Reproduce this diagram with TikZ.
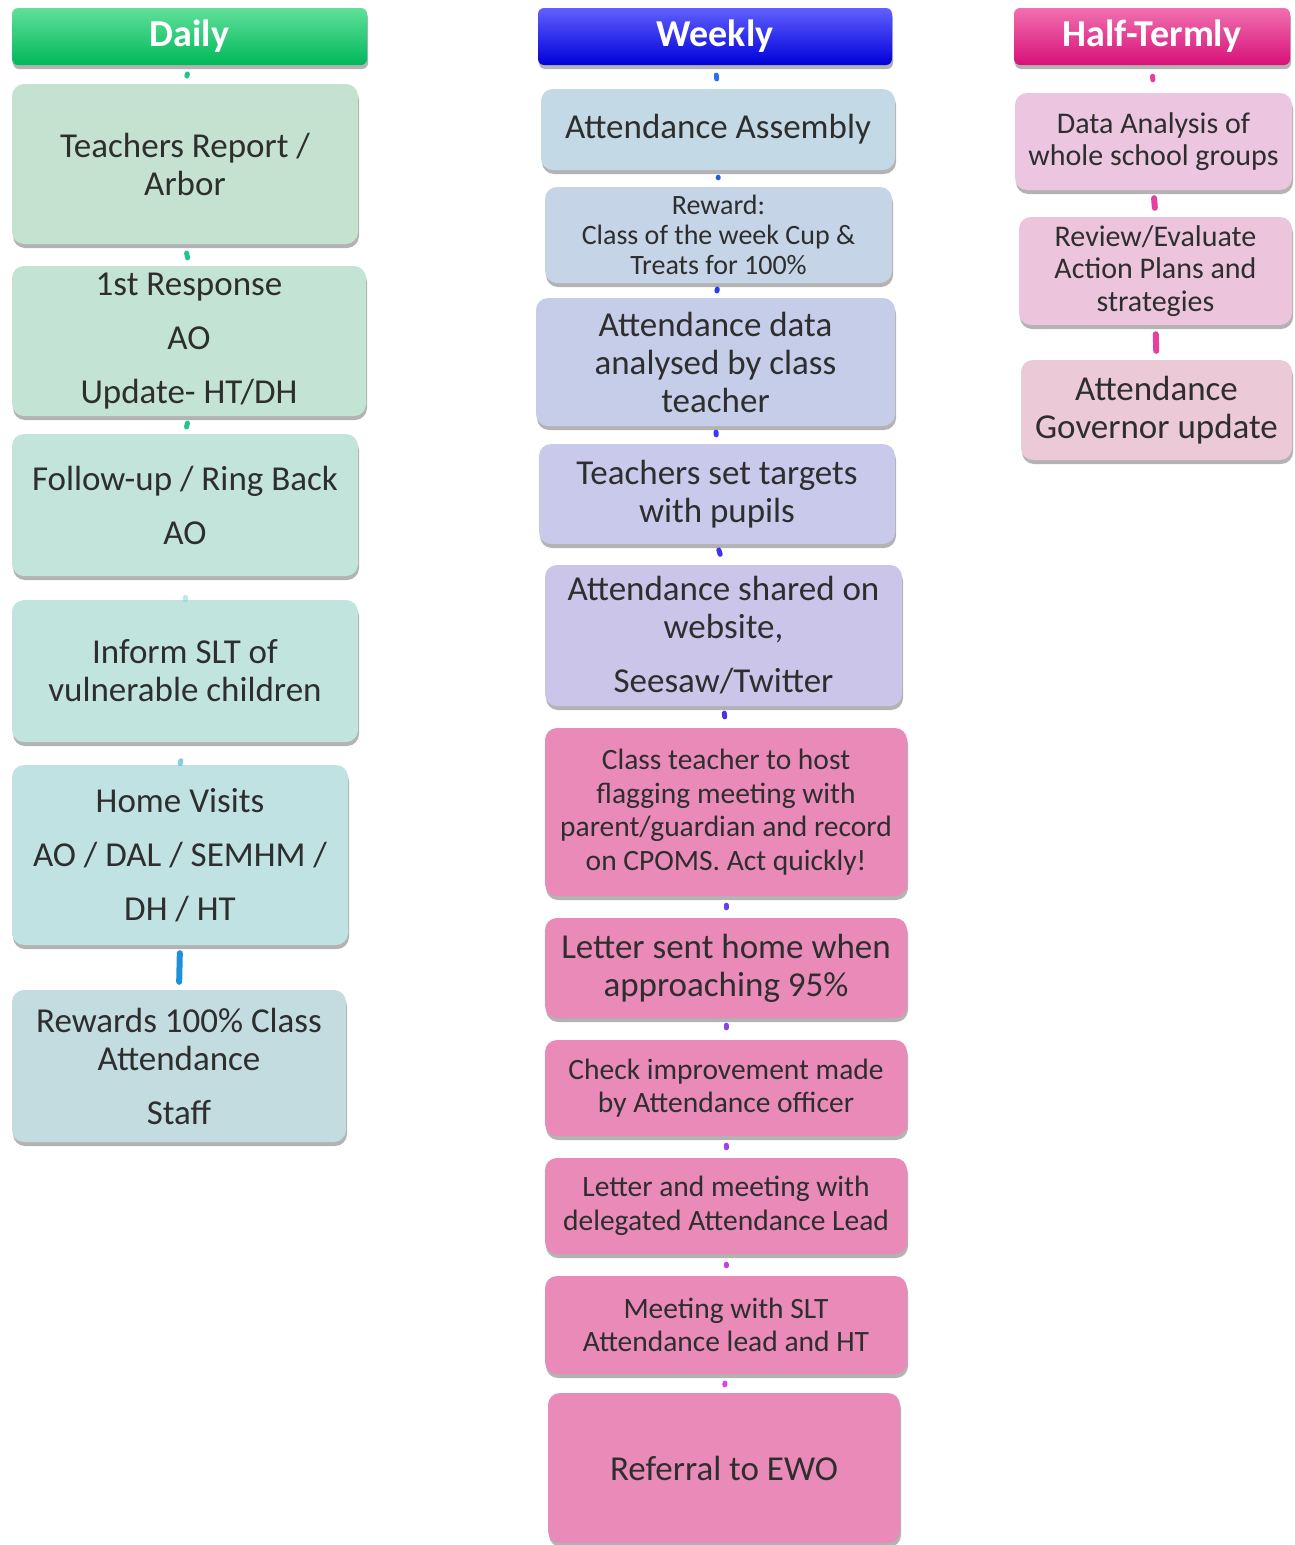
\documentclass[tikz,border=0pt]{standalone}
\usepackage{fontspec}
\setmainfont{Carlito}
\usetikzlibrary{shadows}
\definecolor{txt}{HTML}{2E2E2E}
\definecolor{dA}{HTML}{C4E2CF}\definecolor{dB}{HTML}{C3E4D4}\definecolor{dC}{HTML}{C2E4DA}
\definecolor{dD}{HTML}{C1E4DF}\definecolor{dE}{HTML}{C0E2E2}\definecolor{dF}{HTML}{C3DCE0}
\definecolor{wA}{HTML}{C4D9E6}\definecolor{wB}{HTML}{C5D4E7}\definecolor{wC}{HTML}{C5CDE9}
\definecolor{wD}{HTML}{C8C9EB}\definecolor{wE}{HTML}{CBC5E9}\definecolor{wP}{HTML}{E98AB9}
\definecolor{hA}{HTML}{ECC6E0}\definecolor{hB}{HTML}{ECC5DD}\definecolor{hC}{HTML}{ECC9D7}
\tikzset{
  shad/.style={drop shadow={shadow xshift=1pt,shadow yshift=-4pt,opacity=0.4,fill=black!75}},
  box/.style={rectangle,rounded corners=12pt,shad,align=center,text=txt,inner sep=2pt,
    font=\fontsize{35}{38}\selectfont},
  small/.style={font=\fontsize{29.5}{33.5}\selectfont},
  tiny/.style={font=\fontsize{28}{30}\selectfont},
  half/.style={font=\fontsize{30}{32.5}\selectfont},
  head/.style={rectangle,rounded corners=6pt,shad,text=white,minimum height=57pt,
    font=\fontsize{38}{42}\selectfont\bfseries},
  conn/.style={line width=5pt,line cap=round},
  bar/.style={line width=6pt,line cap=round},
}
\begin{document}
\begin{tikzpicture}[x=1pt,y=-1pt]
\useasboundingbox (0,0) rectangle (1295,1545);
% ---------------- Daily
\node[head,top color={rgb,255:red,96;green,224;blue,154},bottom color={rgb,255:red,0;green,184;blue,90},minimum width=355pt] (dh) at (189.5,36.5) {Daily};
\node[box,fill=dA,minimum width=346pt,minimum height=160pt] (d1) at (185,164) {Teachers Report /\\Arbor};
\node[box,fill=dB,minimum width=354pt,minimum height=150pt] (d2) at (189,341) {1st Response\\[16pt]AO\\[16pt]Update- HT/DH};
\node[box,fill=dC,minimum width=346pt,minimum height=142pt] (d3) at (185,505) {Follow-up / Ring Back\\[16pt]AO};
\node[box,fill=dD,minimum width=346pt,minimum height=142pt] (d4) at (185,671) {Inform SLT of\\vulnerable children};
\node[box,fill=dE,minimum width=336pt,minimum height=180pt] (d5) at (180,855) {Home Visits\\[16pt]AO / DAL / SEMHM /\\[16pt]DH / HT};
\node[box,fill=dF,minimum width=334pt,minimum height=152pt] (d6) at (179,1066) {Rewards 100\% Class\\Attendance\\[16pt]Staff};
\begin{scope}[color={rgb,255:red,32;green,196;blue,140}]
\draw[conn,shorten <=9pt,shorten >=8pt] (dh.south) -- (d1.north);
\draw[conn,shorten <=9pt,shorten >=8pt] (d1.south) -- (d2.north);
\draw[conn,shorten <=7pt,shorten >=7pt] (d2.south) -- (d3.north);
\end{scope}
\draw[conn,color={rgb,255:red,120;green,210;blue,215},opacity=0.5,shorten <=21pt,shorten >=0pt] (d3.south) -- (d4.north);
\draw[conn,color={rgb,255:red,90;green,180;blue,220},opacity=0.7,shorten <=19pt,shorten >=1pt] (d4.south) -- (d5.north);
\draw[bar,color={rgb,255:red,30;green,144;blue,216},shorten <=8pt,shorten >=8pt] (d5.south) -- (d6.north);
% ---------------- Weekly
\node[head,top color={rgb,255:red,96;green,96;blue,255},bottom color={rgb,255:red,0;green,0;blue,216},minimum width=354pt] (wh) at (715,36.5) {Weekly};
\node[box,fill=wA,minimum width=354pt,minimum height=81pt] (w1) at (718,129.5) {Attendance Assembly};
\node[box,tiny,fill=wB,minimum width=347pt,minimum height=96pt] (w2) at (718.5,235) {Reward:\\Class of the week Cup \&\\Treats for 100\%};
\node[box,fill=wC,minimum width=359pt,minimum height=128pt] (w3) at (715.5,362) {Attendance data\\analysed by class\\teacher};
\node[box,fill=wD,minimum width=356pt,minimum height=100pt] (w4) at (717,494) {Teachers set targets\\with pupils};
\node[box,fill=wE,minimum width=357pt,minimum height=141pt] (w5) at (723.5,635.5) {Attendance shared on\\website,\\[16pt]Seesaw/Twitter};
\node[box,small,fill=wP,minimum width=362pt,minimum height=168pt] (w6) at (726,812) {Class teacher to host\\flagging meeting with\\parent/guardian and record\\on CPOMS. Act quickly!};
\node[box,fill=wP,minimum width=362pt,minimum height=100pt] (w7) at (726,968) {Letter sent home when\\approaching 95\%};
\node[box,small,fill=wP,minimum width=362pt,minimum height=96pt] (w8) at (726,1088) {Check improvement made\\by Attendance officer};
\node[box,small,fill=wP,minimum width=362pt,minimum height=96pt] (w9) at (726,1206) {Letter and meeting with\\delegated Attendance Lead};
\node[box,small,fill=wP,minimum width=362pt,minimum height=98pt] (w10) at (726,1325) {Meeting with SLT\\Attendance lead and HT};
\node[box,fill=wP,minimum width=352pt,minimum height=150pt] (w11) at (724,1468) {Referral to EWO};
\draw[conn,color={rgb,255:red,47;green,111;blue,232},shorten <=10pt,shorten >=10pt] (wh.south) -- (w1.north);
\draw[conn,color={rgb,255:red,32;green,96;blue,232},shorten <=7pt,shorten >=9pt] (w1.south) -- (w2.north);
\draw[conn,color={rgb,255:red,32;green,64;blue,240},shorten <=6pt,shorten >=7pt] (w2.south) -- (w3.north);
\draw[conn,color={rgb,255:red,58;green,58;blue,240},shorten <=6pt,shorten >=9pt] (w3.south) -- (w4.north);
\draw[conn,color={rgb,255:red,64;green,48;blue,240},shorten <=6pt,shorten >=11pt] (w4.south) -- (w5.north);
\draw[conn,color={rgb,255:red,80;green,48;blue,240},shorten <=7pt,shorten >=11pt] (w5.south) -- (w6.north);
\draw[conn,color={rgb,255:red,96;green,64;blue,240},shorten <=9pt,shorten >=10pt] (w6.south) -- (w7.north);
\draw[conn,color={rgb,255:red,144;green,64;blue,240},shorten <=7pt,shorten >=12pt] (w7.south) -- (w8.north);
\draw[conn,color={rgb,255:red,160;green,64;blue,240},shorten <=9pt,shorten >=10pt] (w8.south) -- (w9.north);
\draw[conn,color={rgb,255:red,192;green,64;blue,232},shorten <=10pt,shorten >=10pt] (w9.south) -- (w10.north);
\draw[conn,color={rgb,255:red,224;green,64;blue,232},shorten <=9pt,shorten >=8pt] (w10.south) -- (w11.north);
% ---------------- Half-Termly
\node[head,top color={rgb,255:red,240;green,112;blue,176},bottom color={rgb,255:red,216;green,16;blue,120},minimum width=276pt] (hh) at (1152,36.5) {Half-Termly};
\node[box,half,fill=hA,minimum width=277pt,minimum height=97pt] (h1) at (1153.5,141.5) {Data Analysis of\\whole school groups};
\node[box,half,fill=hB,minimum width=273pt,minimum height=108pt] (h2) at (1155.5,271) {Review/Evaluate\\Action Plans and\\strategies};
\node[box,fill=hC,minimum width=271pt,minimum height=100pt] (h3) at (1156.5,410) {Attendance\\Governor update};
\begin{scope}[color={rgb,255:red,228;green,64;blue,160}]
\draw[conn,shorten <=11pt,shorten >=13pt] (hh.south) -- (h1.north);
\draw[bar,shorten <=8pt,shorten >=9pt] (h1.south) -- (h2.north);
\draw[bar,shorten <=9pt,shorten >=9pt] (h2.south) -- (h3.north);
\end{scope}
\end{tikzpicture}
\end{document}
